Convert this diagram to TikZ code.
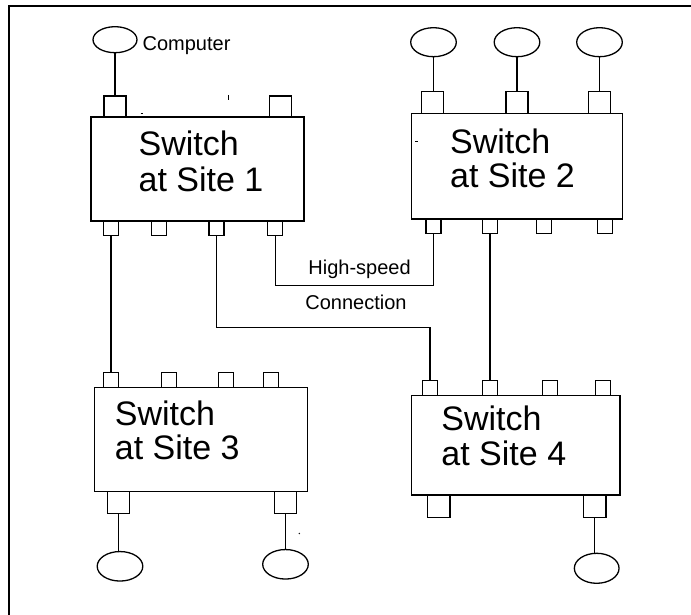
\documentclass[tikz,border=0pt]{standalone}
\usepackage{fontspec}
\setmainfont{Liberation Sans}
\usetikzlibrary{shapes.geometric}
\begin{document}
\begin{tikzpicture}[x=1pt,y=-1pt,
  every path/.style={line width=1.3pt},
  switchbox/.style={draw,line width=1.4pt,rectangle,inner sep=0pt},
  bigport/.style={draw,rectangle,inner sep=0pt,minimum width=22pt,minimum height=21pt},
  smallport/.style={draw,rectangle,inner sep=0pt,minimum width=15pt,minimum height=14.5pt},
  pc/.style={draw,ellipse,inner sep=0pt,minimum width=45pt,minimum height=28pt},
  bigtext/.style={anchor=base west,inner sep=0pt,font=\fontsize{34}{35}\selectfont},
  smalltext/.style={anchor=base west,inner sep=0pt,font=\fontsize{20}{22}\selectfont}]
\useasboundingbox (0,0) rectangle (691,615);
% frame
\draw[line width=1.5pt] (9,615) -- (9,6) -- (691,6);

% ---- Switch 1
\node[switchbox,minimum width=213pt,minimum height=104pt] (s1) at (197.5,169) {};
\node[bigtext] (s1a) at (138,156) {Switch};
\node[bigtext] (s1b) at (138,191) {at Site 1};
\node[bigport] (p1t1) at (115,106.5) {};
\node[bigport] (p1t2) at (280.3,106.5) {};
\node[smallport] (p1b1) at (111,228) {};
\node[smallport] (p1b2) at (159.2,228) {};
\node[smallport] (p1b3) at (216.5,228) {};
\node[smallport] (p1b4) at (275.2,228) {};
\node[pc,minimum width=44pt,minimum height=26pt] (c1) at (115,39.7) {};
\node[smalltext] (lc) at (142,50.7) {Computer};
\draw (c1.south) -- (p1t1.north);

% ---- Switch 2
\node[switchbox,minimum width=210.6pt,minimum height=105.7pt] (s2) at (517,166.2) {};
\node[bigtext] (s2a) at (449.5,153.3) {Switch};
\node[bigtext] (s2b) at (449.5,187.3) {at Site 2};
\node[bigport,minimum height=22pt] (p2t1) at (432.5,102.5) {};
\node[bigport,minimum height=22pt] (p2t2) at (517,102.5) {};
\node[bigport,minimum height=22pt] (p2t3) at (599.5,102.5) {};
\node[smallport] (p2b1) at (433.5,226) {};
\node[smallport] (p2b2) at (490,226) {};
\node[smallport] (p2b3) at (544.2,226) {};
\node[smallport] (p2b4) at (605.2,226) {};
\node[pc,minimum width=45.6pt,minimum height=29pt] (c21) at (433.5,42.2) {};
\node[pc,minimum width=45.6pt,minimum height=29pt] (c22) at (517,42.2) {};
\node[pc,minimum width=45.6pt,minimum height=29pt] (c23) at (599.5,42.2) {};
\draw (c21.south) -- (c21.south |- p2t1.north);
\draw (c22.south) -- (p2t2.north);
\draw (c23.south) -- (p2t3.north);

% ---- Switch 3
\node[switchbox,minimum width=213.4pt,minimum height=104pt] (s3) at (201,439.7) {};
\node[bigtext] (s3a) at (114.2,425) {Switch};
\node[bigtext] (s3b) at (114.2,459.3) {at Site 3};
\node[smallport,minimum height=15pt] (p3t1) at (111,380) {};
\node[smallport,minimum height=15pt] (p3t2) at (169.2,380) {};
\node[smallport,minimum height=15pt] (p3t3) at (225.8,380) {};
\node[smallport,minimum height=15pt] (p3t4) at (270.8,380) {};
\node[bigport,minimum height=22pt] (p3b1) at (118.3,502.5) {};
\node[bigport,minimum height=22pt] (p3b2) at (285.5,502.5) {};
\node[pc,minimum width=45.6pt,minimum height=29.5pt] (c31) at (120,566.3) {};
\node[pc,minimum width=45.6pt,minimum height=29.5pt] (c32) at (285.5,564.3) {};
\draw (p3b1.south) -- (p3b1.south |- c31.north);
\draw (p3b2.south) -- (c32.north);

% ---- Switch 4
\node[switchbox,minimum width=208.3pt,minimum height=99.3pt] (s4) at (515.8,445.3) {};
\node[bigtext] (s4a) at (440.8,430) {Switch};
\node[bigtext] (s4b) at (440.8,465.7) {at Site 4};
\node[smallport,minimum height=15pt] (p4t1) at (430,388) {};
\node[smallport,minimum height=15pt] (p4t2) at (490,388) {};
\node[smallport,minimum height=15pt] (p4t3) at (550,388) {};
\node[smallport,minimum height=15pt] (p4t4) at (603.2,388) {};
\node[bigport,minimum width=22.7pt,minimum height=22.7pt] (p4b1) at (438.7,506.3) {};
\node[bigport,minimum width=22.7pt,minimum height=22.7pt] (p4b2) at (594.5,506.3) {};
\node[pc,minimum width=44.7pt,minimum height=30pt] (c4) at (596.7,568.3) {};
\draw (p4b2.south) -- (p4b2.south |- c4.north);

% ---- inter-switch links
\draw (p1b1.south) -- (p3t1.north);
\draw (p1b4.south) -- ++(0,49.3) -| (p2b1.south);
\draw (p1b3.south) -- ++(0,91.7) -| (p4t1.north);
\draw (p2b2.south) -- (p4t2.north);
\node[smalltext] (lhs) at (307.8,274) {High-speed};
\node[smalltext] (lcn) at (304.7,309) {Connection};

% ---- stray marks
\draw[line width=1pt] (140.5,114) -- (143,114);
\draw[line width=1pt] (228.3,95) -- (228.3,100);
\draw[line width=1pt] (415,141.7) -- (417.5,141.7);
\draw[line width=1pt] (299,533) -- (299.6,534);
\end{tikzpicture}
\end{document}
